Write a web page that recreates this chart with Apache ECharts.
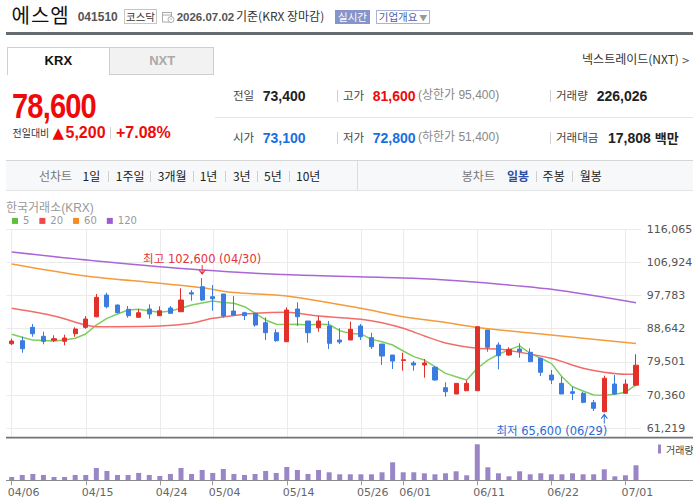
<!DOCTYPE html>
<html>
<head>
<meta charset="utf-8">
<script src="https://cdn.jsdelivr.net/npm/echarts/dist/echarts.min.js"></script>
<style>
  html, body { margin: 0; padding: 0; background: #fff; }
  body { width: 693px; height: 504px; overflow: hidden; position: relative; font-family: "Noto Sans CJK KR", sans-serif; }
  .t { position: absolute; white-space: nowrap; line-height: 20px; }
  .num { font-family: "Liberation Sans", "Noto Sans CJK KR", sans-serif; font-weight: bold; }
  .lbl { font-size: 11.5px; color: #444; }
  .v { font-size: 14px; color: #222; }
  .sep { position: absolute; width: 1px; background: #d0d0d0; }
  .tb { font-size: 12px; color: #222; }
  #chart { position: absolute; left: 0; top: 0; width: 693px; height: 504px; }
</style>
</head>
<body>
<!-- title row -->
<div class="t" style="left:11.5px;top:2.5px;font-size:20px;line-height:24px;letter-spacing:1px;color:#111;">에스엠</div>
<div class="t num" style="left:77.7px;top:6.7px;font-size:12px;color:#555;">041510</div>
<div style="position:absolute;left:124px;top:9px;width:33px;height:15px;box-sizing:border-box;border:1px solid #c6c6c6;font-size:10.5px;line-height:13px;text-align:center;color:#333;">코스닥</div>
<svg style="position:absolute;left:162px;top:11px;" width="13" height="12" viewBox="0 0 13 12">
  <rect x="0.5" y="1.5" width="9" height="9.5" fill="none" stroke="#aaa"/>
  <line x1="0.5" y1="4" x2="9.5" y2="4" stroke="#aaa"/>
  <circle cx="9" cy="8.5" r="3" fill="#fff" stroke="#aaa"/>
  <line x1="9" y1="7" x2="9" y2="8.7" stroke="#aaa"/>
</svg>
<div class="t num" style="left:176.7px;top:7px;font-size:11.5px;color:#555;">2026.07.02</div>
<div class="t" style="left:236px;top:6.3px;font-size:12px;color:#333;">기준(KRX 장마감)</div>
<div style="position:absolute;left:335px;top:9.5px;width:35px;height:14px;background:#8695c9;color:#fff;font-size:10.5px;line-height:14px;text-align:center;">실시간</div>
<div style="position:absolute;left:376px;top:9.5px;width:54px;height:14px;box-sizing:border-box;border:1px solid #a9b2d8;color:#4a5ca3;font-size:10.5px;line-height:12px;text-align:center;">기업개요<span style="color:#999;font-size:8px;"> ▼</span></div>
<div style="position:absolute;left:6px;top:32.3px;width:687px;height:3px;background:#666b72;"></div>

<!-- tabs -->
<div style="position:absolute;left:6.7px;top:47.3px;width:103.3px;height:27.4px;box-sizing:border-box;border:1px solid #cfcfcf;border-bottom:none;background:#fff;"></div>
<div style="position:absolute;left:110px;top:47.3px;width:104.3px;height:27.4px;box-sizing:border-box;border:1px solid #cfcfcf;border-left:none;background:#f2f2f2;"></div>
<div class="t num" style="left:6.7px;width:103.3px;text-align:center;top:50.7px;font-size:13px;color:#111;">KRX</div>
<div class="t num" style="left:110px;width:104.3px;text-align:center;top:50.7px;font-size:13px;color:#aaa;">NXT</div>
<div class="t" style="right:3px;top:49.4px;font-size:12px;color:#333;">넥스트레이드(NXT) <span style="font-family:'DejaVu Sans';font-size:10px;color:#555;">&gt;</span></div>

<!-- price block -->
<div class="num" style="position:absolute;left:12px;top:88.4px;font-size:35px;line-height:35px;letter-spacing:-1px;color:#ee0a0a;transform:scaleX(0.83);transform-origin:0 0;white-space:nowrap;">78,600</div>
<div class="t" style="left:12.5px;top:125.5px;font-size:10px;line-height:14px;color:#333;">전일대비</div>
<div class="t" style="left:52.5px;top:125px;font-size:15px;line-height:16px;color:#ee0a0a;font-family:'DejaVu Sans';">▲</div>
<div class="t num" style="left:65.5px;top:123px;font-size:16px;color:#ee0a0a;">5,200</div>
<div class="sep" style="left:109.5px;top:127px;height:12px;"></div>
<div class="t num" style="left:116px;top:123px;font-size:16px;color:#ee0a0a;">+7.08%</div>

<!-- info rows -->
<div class="t lbl" style="left:233px;top:85px;">전일</div>
<div class="t num v" style="left:262.7px;top:85.7px;">73,400</div>
<div class="sep" style="left:336.7px;top:90px;height:12px;"></div>
<div class="t lbl" style="left:343px;top:85px;">고가</div>
<div class="t num v" style="left:372.7px;top:85.7px;color:#ee0a0a;">81,600</div>
<div class="t" style="left:418px;top:85.3px;font-size:12px;color:#888;font-family:'Liberation Sans','Noto Sans CJK KR';">(상한가 95,400)</div>
<div class="sep" style="left:550px;top:90px;height:12px;"></div>
<div class="t lbl" style="left:556px;top:85px;">거래량</div>
<div class="t num v" style="left:596.7px;top:85.7px;">226,026</div>

<div style="position:absolute;left:215px;top:117px;width:478px;height:1px;background:#e6e6e6;"></div>

<div class="t lbl" style="left:233px;top:127px;">시가</div>
<div class="t num v" style="left:262.7px;top:127.7px;color:#1a6ee0;">73,100</div>
<div class="sep" style="left:336.7px;top:132px;height:12px;"></div>
<div class="t lbl" style="left:343px;top:127px;">저가</div>
<div class="t num v" style="left:372.7px;top:127.7px;color:#1a6ee0;">72,800</div>
<div class="t" style="left:418px;top:127.3px;font-size:12px;color:#888;font-family:'Liberation Sans','Noto Sans CJK KR';">(하한가 51,400)</div>
<div class="sep" style="left:550px;top:132px;height:12px;"></div>
<div class="t lbl" style="left:556px;top:127px;">거래대금</div>
<div class="t num v" style="left:608px;top:127.7px;">17,808 <span style="font-size:13px;">백만</span></div>

<!-- toolbar -->
<div style="position:absolute;left:6px;top:160px;width:687px;height:31px;box-sizing:border-box;background:#f7f8fa;border-top:1px solid #d6d6d6;border-bottom:1px solid #e4e4e4;"></div>
<div class="sep" style="left:357px;top:161px;height:29px;background:#dcdcdc;"></div>
<div class="t tb" style="left:39px;top:166px;color:#777;">선차트</div>
<div class="t tb" style="left:82.6px;top:166px;">1일</div>
<div class="sep" style="left:108px;top:171px;height:11px;"></div>
<div class="t tb" style="left:115.8px;top:166px;">1주일</div>
<div class="sep" style="left:150px;top:171px;height:11px;"></div>
<div class="t tb" style="left:157.8px;top:166px;">3개월</div>
<div class="sep" style="left:193px;top:171px;height:11px;"></div>
<div class="t tb" style="left:199.7px;top:166px;">1년</div>
<div class="sep" style="left:225px;top:171px;height:11px;"></div>
<div class="t tb" style="left:232.9px;top:166px;">3년</div>
<div class="sep" style="left:257px;top:171px;height:11px;"></div>
<div class="t tb" style="left:264px;top:166px;">5년</div>
<div class="sep" style="left:289.4px;top:171px;height:11px;"></div>
<div class="t tb" style="left:296px;top:166px;">10년</div>
<div class="t tb" style="left:461.8px;top:166px;color:#777;">봉차트</div>
<div class="t tb" style="left:506.9px;top:166px;color:#2c4fa6;font-weight:bold;">일봉</div>
<div class="sep" style="left:535.6px;top:171px;height:11px;"></div>
<div class="t tb" style="left:542.6px;top:166px;">주봉</div>
<div class="sep" style="left:572px;top:171px;height:11px;"></div>
<div class="t tb" style="left:579.8px;top:166px;">월봉</div>

<div class="t" style="left:6px;top:200.7px;font-size:12px;line-height:14px;color:#999;font-family:'Liberation Sans','Noto Sans CJK KR';">한국거래소(KRX)</div>

<div id="chart"></div>

<script>
// ---- data ----
const dates = ['04/06','04/07','04/08','04/09','04/10','04/13','04/14','04/15','04/16','04/17',
  '04/20','04/21','04/22','04/23','04/24','04/27','04/28','04/29','04/30','05/04',
  '05/06','05/07','05/08','05/11','05/12','05/13','05/14','05/15','05/18','05/19',
  '05/20','05/21','05/22','05/26','05/27','05/28','05/29','06/01','06/02','06/04',
  '06/05','06/08','06/09','06/10','06/11','06/12','06/15','06/16','06/17','06/18',
  '06/19','06/22','06/23','06/24','06/25','06/26','06/29','06/30','07/01','07/02'];

const openP = [84500,85330,89020,86540,85440,85170,87260,89020,91940,97910,
  95160,93970,91780,94060,92220,94340,93320,98550,100200,97450,
  98190,93510,93040,92880,90290,87540,85060,94060,90760,88910,
  89380,85530,85530,89380,86160,84420,81400,79900,79200,78650,
  78010,72400,70660,71570,71570,88280,84150,81400,83050,82140,
  80490,75890,73600,71290,70850,68270,65800,73410,70850,73100];
const closeP = [85250,83130,87260,85170,85890,86080,88550,91310,97280,94690,
  93040,92220,93040,92680,93590,92870,96540,98190,96540,96900,
  92130,92400,92220,89660,87540,85330,93790,91940,87540,90760,
  84620,84970,88470,86440,83680,81120,79740,80100,78650,79200,
  74520,71300,73600,73600,89190,83520,81200,82960,82300,79550,
  76640,74520,70660,70850,68380,66720,75000,70660,73400,78600];
const lowP = [84150,82030,86440,84340,84970,84070,86440,88640,91780,94250,
  92900,91670,91780,91390,92220,92870,93320,96350,96300,93600,
  91670,92130,91030,89190,85530,85060,85060,89380,84780,87810,
  83050,84420,85530,85530,83050,78640,77540,77080,77080,75150,
  74330,69920,70660,71570,71570,82300,77460,81200,80650,79550,
  75620,73410,70660,69010,68100,65980,65600,70380,70850,72800];
const highP = [85900,86440,89930,87810,86820,86990,89020,92130,98190,98550,
  95300,94890,94060,95350,94800,94890,99760,99290,102600,100670,
  98190,97630,93320,92880,91780,88470,94530,95900,90760,92130,
  90760,88750,90570,89930,87540,84420,81400,82030,79740,80300,
  78370,73880,73600,74430,89190,88280,84900,83520,84620,83240,
  80490,77270,75420,72680,71290,69010,75700,75890,74700,81600];

const volumes = [50200,80400,95400,80400,50200,50200,80400,80400,185900,140600,
  80400,80400,110500,80400,65300,95400,185900,95400,155700,110500,
  170800,95400,80400,95400,140600,110500,200900,155700,95400,155700,
  120600,90400,90400,90400,90400,120600,271200,120600,120600,105500,
  90400,105500,135600,75300,542500,195900,105500,60300,135600,90400,
  105500,90400,90400,105500,90400,90400,165800,60300,75300,226026];

const ma5 = [87100,86300,85500,85400,85250,85500,86000,87200,89650,91500,
  92700,93800,94000,93500,93150,93500,94250,95150,95700,96250,
  95850,95650,94700,92900,91050,89850,89800,89900,89650,89850,
  89800,88100,87350,87200,85700,85050,84150,82500,80950,80000,
  78200,76350,75400,74500,77750,80000,81600,82800,83900,81850,
  80500,79100,75400,72650,71500,70400,70350,70600,71150,73150];
// moving averages at sample days (null = not read)
const ma20 = [94250,null,null,null,92150,null,null,89650,89200,null,
  null,null,null,null,89400,null,null,90150,null,91500,
  null,92250,null,92900,null,null,93150,null,null,92150,
  null,null,null,91250,null,90300,null,88750,null,86650,
  null,84700,null,null,83250,null,83050,null,82150,null,
  null,80500,null,null,77750,null,76650,null,76100,76100];
const ma60 = [106450,null,null,null,null,null,null,103150,null,null,
  null,null,null,null,101150,null,null,null,99900,null,
  null,98600,null,null,null,null,97650,null,null,null,
  null,null,null,94250,null,null,null,91950,null,null,
  null,90350,null,null,89000,null,null,null,null,null,
  null,86900,null,null,null,null,null,null,null,84600];
const ma120 = [109750,null,null,null,null,null,null,null,107300,null,
  null,null,null,null,null,null,null,null,104800,null,
  null,null,null,null,null,null,null,103400,null,null,
  null,null,null,null,null,null,null,102600,null,null,
  null,102050,null,null,101400,null,null,null,null,null,
  null,99500,null,null,null,null,null,null,null,95800];

const yTicks = [61219, 70360, 79501, 88642, 97783, 106924, 116065];
const xLabelDates = ['04/06','04/15','04/24','05/04','05/14','05/26','06/01','06/11','06/22','07/01'];
const maNames = ['5','20','60','120'];

// ---- chart ----
const candles = dates.map((d, i) => [openP[i], closeP[i], lowP[i], highP[i]]);
const fmt = v => v.toLocaleString('en-US');
let hiIdx = 0, loIdx = 0;
highP.forEach((v, i) => { if (v > highP[hiIdx]) hiIdx = i; });
lowP.forEach((v, i) => { if (v < lowP[loIdx]) loIdx = i; });
const showDate = (i, v) => xLabelDates.indexOf(v) >= 0;

const arrowDown = 'path://M4.4,0 L5.6,0 L5.6,7.2 L8.6,4.4 L9.4,5.2 L5,10 L0.6,5.2 L1.4,4.4 L4.4,7.2 Z';
const arrowUp = 'path://M4.4,10 L5.6,10 L5.6,2.8 L8.6,5.6 L9.4,4.8 L5,0 L0.6,4.8 L1.4,5.6 L4.4,2.8 Z';
const annoFont = '"DejaVu Sans", "Noto Sans CJK KR", sans-serif';
const UP = '#e2302b', DOWN = '#3a7ce0';
const lineColors = ['#7fcd60', '#f26d6a', '#f59b3a', '#ab66d6'];
const legendColors = ['#5dbf3e', '#ef4a4a', '#f58a22', '#9c5fd2'];
const maData = [ma5, ma20, ma60, ma120];

const chart = echarts.init(document.getElementById('chart'), null, { renderer: 'svg' });

const option = {
  animation: false,
  backgroundColor: 'transparent',
  grid: [
    { left: 6.4, right: 51.7, top: 229.1, bottom: 75.7, outerBoundsMode: 'none', containLabel: false },
    { left: 11.7, right: 56.8, top: 229.1, bottom: 66.3, outerBoundsMode: 'none', containLabel: false },
    { left: 6.4, right: 51.7, top: 441, bottom: 23.7, outerBoundsMode: 'none', containLabel: false }
  ],
  legend: [
    {
      data: maNames.map((n, i) => ({ name: n, itemStyle: { color: legendColors[i] } })),
      left: 12, top: 215.9, padding: 0, icon: 'rect', itemWidth: 6, itemHeight: 6, itemGap: 10,
      selectedMode: false, lineStyle: { width: 0 },
      textStyle: { fontSize: 10, color: '#999', fontFamily: 'DejaVu Sans', lineHeight: 9 }
    },
    {
      data: ['거래량'], left: 658, top: 444, padding: 0, icon: 'rect', itemWidth: 3, itemHeight: 9,
      selectedMode: false, textStyle: { fontSize: 10, color: '#444', fontFamily: 'Noto Sans CJK KR' }
    }
  ],
  xAxis: [
    { gridIndex: 0, type: 'category', data: dates, boundaryGap: true, show: false },
    {
      gridIndex: 1, type: 'category', data: dates, boundaryGap: false,
      axisLine: { show: false }, axisTick: { show: false }, axisLabel: { show: false },
      splitLine: { show: true, interval: showDate, lineStyle: { color: '#ebebeb', width: 1 } }
    },
    {
      gridIndex: 2, type: 'category', data: dates, boundaryGap: true,
      axisLine: { show: true, lineStyle: { color: '#8a8a8a', width: 1 } },
      axisTick: { show: true, alignWithLabel: true, interval: showDate, length: 5, lineStyle: { color: '#999' } },
      splitLine: { show: false },
      axisLabel: {
        interval: showDate, margin: 7, color: '#666', fontSize: 11, fontFamily: 'DejaVu Sans',
        formatter: v => '{a|' + v + '}',
        rich: { a: { width: 8, align: 'left', fontSize: 11, color: '#666', fontFamily: 'DejaVu Sans' } }
      }
    }
  ],
  yAxis: [
    {
      gridIndex: 0, type: 'value', position: 'right',
      min: yTicks[0], max: yTicks[yTicks.length - 1], interval: yTicks[1] - yTicks[0],
      axisLine: { show: false }, axisTick: { show: false },
      axisLabel: { margin: 5.5, color: '#555', fontSize: 11, fontFamily: 'DejaVu Sans', formatter: fmt },
      splitLine: { show: true, lineStyle: { color: '#ebebeb', width: 1 } }
    },
    { gridIndex: 1, type: 'value', show: false, min: 0, max: 1 },
    { gridIndex: 2, type: 'value', show: false, min: 0, max: 592000 }
  ],
  series: [
    { type: 'line', xAxisIndex: 1, yAxisIndex: 1, data: [], silent: true },
    ...maNames.map((n, i) => ({
      name: n, type: 'line', xAxisIndex: 0, yAxisIndex: 0, data: maData[i],
      connectNulls: true, symbol: 'none', smooth: i === 0 ? false : 0.3, silent: true,
      lineStyle: { color: lineColors[i], width: 1.5 }, itemStyle: { color: lineColors[i] }, z: 1
    })),
    {
      name: 'KRX', type: 'candlestick', xAxisIndex: 0, yAxisIndex: 0, data: candles,
      barWidth: 4.6, z: 3,
      itemStyle: { color: UP, color0: DOWN, borderColor: UP, borderColor0: DOWN, borderWidth: 1 },
      markPoint: {
        animation: false,
        data: [
          {
            name: 'high', coord: [dates[hiIdx], highP[hiIdx]], symbol: arrowDown, symbolSize: [7, 10],
            symbolOffset: [0, -8], itemStyle: { color: '#e8323a' },
            label: {
              show: true, position: 'top', distance: 0, color: '#e8323a', fontSize: 11.5, fontFamily: annoFont,
              formatter: '최고 ' + fmt(highP[hiIdx]) + ' (' + dates[hiIdx] + ')'
            }
          },
          {
            name: 'low', coord: [dates[loIdx], lowP[loIdx]], symbol: arrowUp, symbolSize: [7, 10],
            symbolOffset: [0, 6], itemStyle: { color: '#2b6bd6' },
            label: {
              show: true, position: 'bottom', distance: 2, align: 'right', offset: [3, 0],
              color: '#2b6bd6', fontSize: 11.5, fontFamily: annoFont,
              formatter: '최저 ' + fmt(lowP[loIdx]) + ' (' + dates[loIdx] + ')'
            }
          }
        ]
      }
    },
    {
      name: '거래량', type: 'bar', xAxisIndex: 2, yAxisIndex: 2, data: volumes,
      barWidth: 5, itemStyle: { color: '#9a85c6' }, silent: true
    }
  ],
  graphic: [
    { type: 'line', silent: true, shape: { x1: 6, y1: 437.6, x2: 693, y2: 437.6 }, style: { stroke: '#6f747b', lineWidth: 1.6 }, z: 10 },
    { type: 'line', silent: true, shape: { x1: 6, y1: 480.5, x2: 693, y2: 480.5 }, style: { stroke: '#8a8a8a', lineWidth: 1 }, z: 10 }
  ]
};
chart.setOption(option);
</script>
</body>
</html>
